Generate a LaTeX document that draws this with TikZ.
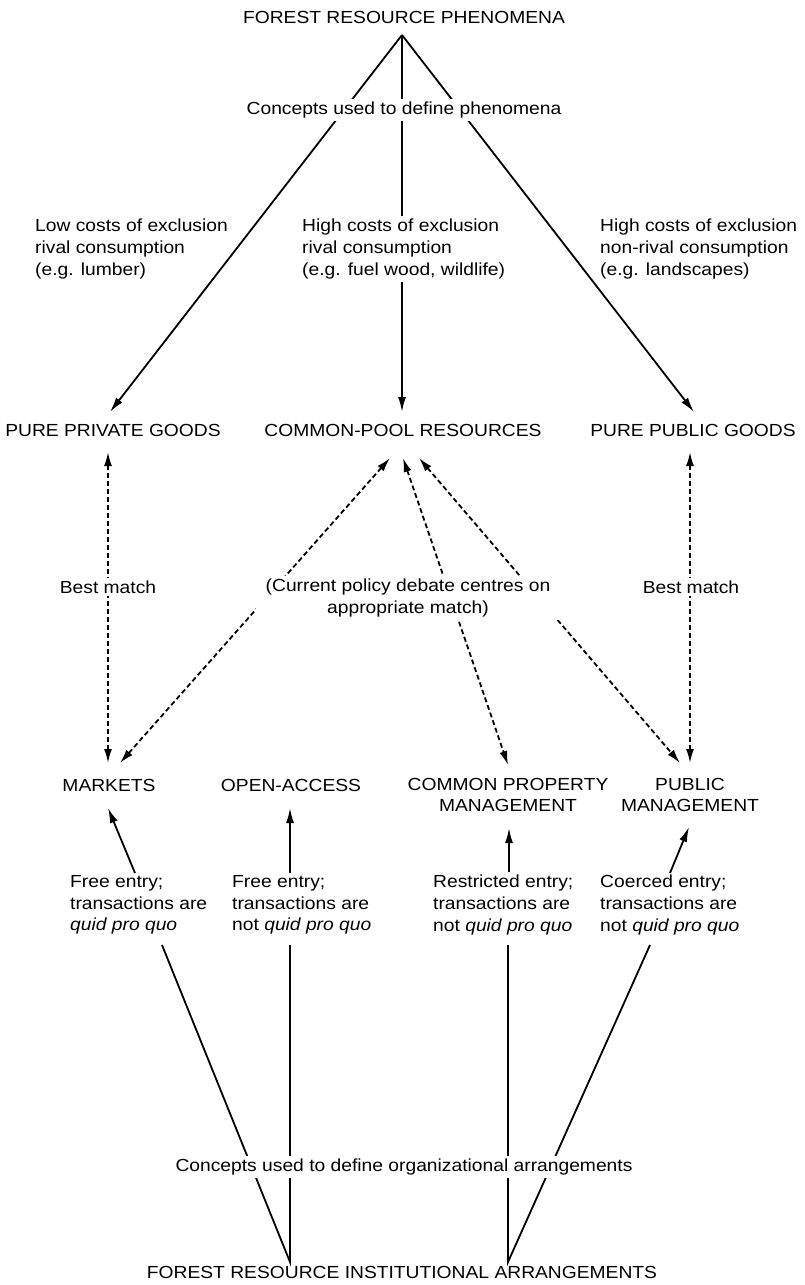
\documentclass[tikz,border=0pt]{standalone}
\usepackage{fontspec}
\setmainfont{Liberation Sans}[FakeStretch=1.1]
\usetikzlibrary{arrows.meta,backgrounds}
\begin{document}
\begin{tikzpicture}[x=1pt,y=-1pt,
  every node/.style={font=\fontsize{17.5}{21.7}\selectfont,inner sep=3pt},
  lbl/.style={fill=white},
  blk/.style={align=left,anchor=west},
  conn/.style={line width=1.8pt},
  arr/.style={conn,-{Latex[length=15pt,width=8pt]}},
  darr/.style={conn,dash pattern=on 5pt off 3pt,{Latex[length=14pt,width=8pt]}-{Latex[length=14pt,width=8pt]}}]
\useasboundingbox (0,0) rectangle (805,1285);
% phenomena
\node (phen) at (404,17) {FOREST RESOURCE PHENOMENA};
\node[lbl] (conc1) at (404,110) {Concepts used to define phenomena};
\node[blk] (lowc) at (32,249) {Low costs of exclusion\\rival consumption\\(e.g. lumber)};
\node[blk,lbl] (highc) at (299,249) {High costs of exclusion\\rival consumption\\(e.g. fuel wood, wildlife)};
\node[blk] (nonr) at (597,249) {High costs of exclusion\\non-rival consumption\\(e.g. landscapes)};
\node (ppg) at (113,430) {PURE PRIVATE GOODS};
\node (cpr) at (403,430) {COMMON-POOL RESOURCES};
\node (pubg) at (693,430) {PURE PUBLIC GOODS};
% matching
\node[lbl] (best1) at (108,587) {Best match};
\node[lbl] (best2) at (691,587) {Best match};
\node[lbl,align=center,inner xsep=10pt] (deb) at (408,598) {(Current policy debate centres on\\appropriate match)};
% arrangements
\node (mkt) at (109,785) {MARKETS};
\node (oa) at (291,785) {OPEN-ACCESS};
\node[align=center] (cpm) at (508,795) {COMMON PROPERTY\\MANAGEMENT};
\node[align=center] (pm) at (690,795) {PUBLIC\\MANAGEMENT};
\node[blk] (fe1) at (67,905) {Free entry;\\transactions are\\\textit{quid pro quo}};
\node[blk] (fe2) at (229,905) {Free entry;\\transactions are\\not \textit{quid pro quo}};
\node[blk] (re) at (430,905) {Restricted entry;\\transactions are\\not \textit{quid pro quo}};
\node[blk] (ce) at (597,905) {Coerced entry;\\transactions are\\not \textit{quid pro quo}};
\node[lbl] (conc2) at (404,1167) {Concepts used to define organizational arrangements};
\node (inst) at (402,1272) {FOREST RESOURCE INSTITUTIONAL ARRANGEMENTS};
% connector ends
\coordinate (top) at (402,35);
\coordinate (ppg-n) at (110,412);
\coordinate (cpr-n) at (402,412);
\coordinate (pubg-n) at (694,412);
\coordinate (ppg-s) at (108,452);
\coordinate (pubg-s) at (690,452);
\coordinate (cpr-s1) at (390,458);
\coordinate (cpr-s2) at (403,458);
\coordinate (cpr-s3) at (419,458);
\coordinate (mkt-n1) at (108,763);
\coordinate (mkt-n2) at (120,763);
\coordinate (cpm-n) at (508,765);
\coordinate (pm-n1) at (680,763);
\coordinate (pm-n2) at (690,763);
\coordinate (mkt-s) at (108,808);
\coordinate (oa-s) at (290,808);
\coordinate (cpm-s) at (509,828);
\coordinate (pm-s) at (689,827);
\coordinate (fe1-n) at (135,873);
\coordinate (fe2-n) at (290,873);
\coordinate (re-n) at (509,872);
\coordinate (ce-n) at (670,873);
\coordinate (fe1-s) at (162,945);
\coordinate (fe2-s) at (290,945);
\coordinate (re-s) at (508,945);
\coordinate (ce-s) at (650,945);
\coordinate (botL) at (290,1262);
\coordinate (botR) at (508,1262);
\begin{scope}[on background layer]
\draw[arr] (top) -- (ppg-n);
\draw[arr] (top) -- (cpr-n);
\draw[arr] (top) -- (pubg-n);
\draw[darr] (ppg-s) -- (mkt-n1);
\draw[darr] (pubg-s) -- (pm-n2);
\draw[darr] (cpr-s1) -- (mkt-n2);
\draw[darr] (cpr-s2) -- (cpm-n);
\draw[darr] (cpr-s3) -- (pm-n1);
\draw[arr] (fe1-n) -- (mkt-s);
\draw[arr] (fe2-n) -- (oa-s);
\draw[arr] (re-n) -- (cpm-s);
\draw[arr] (ce-n) -- (pm-s);
\draw[conn] (fe1-s) -- (botL) -- (fe2-s);
\draw[conn] (re-s) -- (botR) -- (ce-s);
\end{scope}
\end{tikzpicture}
\end{document}
